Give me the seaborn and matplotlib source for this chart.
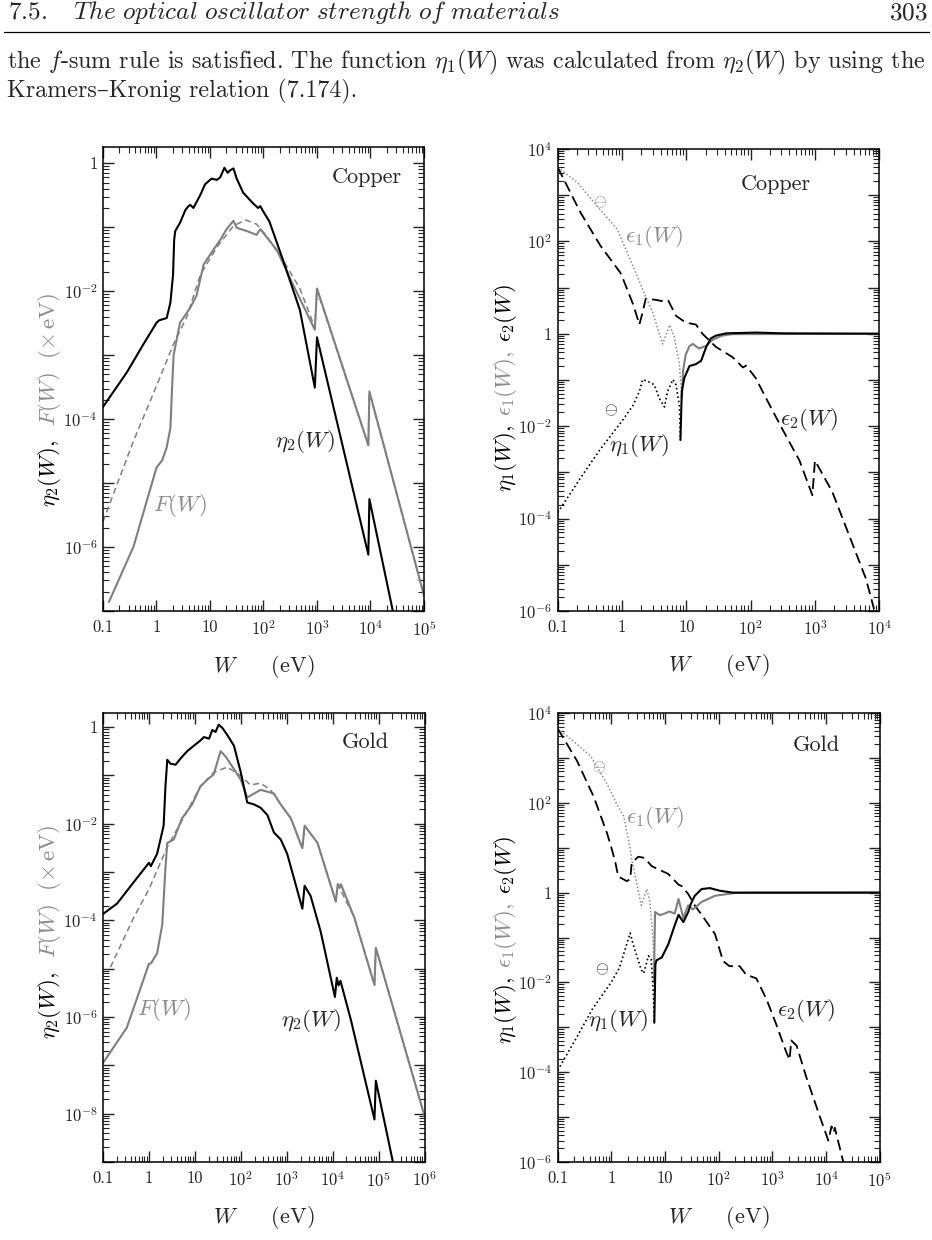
import numpy as np
import pandas as pd
import seaborn as sns
import matplotlib
matplotlib.use("Agg")
import matplotlib.pyplot as plt
from matplotlib.ticker import FixedLocator, FixedFormatter, LogLocator, NullFormatter

# ---- Copper: eta2(W), F(W), fit ----
cu_eta2_w = [0.1, 0.28, 0.575, 1.0, 1.12, 1.55, 1.82, 2.04, 2.14, 2.24, 2.75, 3.47, 3.9, 4.27, 4.9, 6.6, 8.1,
             10.7, 13.5, 15.5, 18.6, 21.4, 24, 27.5, 31.6, 41.7, 64.6, 79.4, 87, 100, 129, 234, 479, 912,
             1000, 9120, 9550, 31600]
cu_eta2_v = [1.55e-4, 5.4e-4, 1.5e-3, 3.2e-3, 3.5e-3, 3.8e-3, 6.6e-3, 1.8e-2, 6.3e-2, 8.7e-2, 0.117, 0.186,
             0.21, 0.224, 0.20, 0.32, 0.47, 0.575, 0.55, 0.60, 0.85, 0.71, 0.78, 0.83, 0.575, 0.347, 0.234,
             0.20, 0.214, 0.174, 0.123, 0.030, 5.1e-3, 3.1e-4, 1.9e-3, 7.6e-7, 5.6e-6, 4.7e-8]
cu_F_w = [0.129, 0.37, 1.0, 1.29, 1.55, 1.82, 1.95, 2.09, 2.75, 4.27, 5.6, 7.6, 11.5, 15.5, 20.4, 27.5,
          31.6, 49, 74, 87, 100, 178, 363, 912, 1000, 9120, 9550, 100000]
cu_F_v = [1.38e-7, 1.0e-6, 1.74e-5, 2.3e-5, 3.6e-5, 7.2e-5, 2.9e-4, 1.0e-3, 3.2e-3, 5.5e-3, 8.5e-3, 0.026,
          0.044, 0.063, 0.093, 0.126, 0.098, 0.087, 0.076, 0.093, 0.081, 0.044, 0.0123, 2.5e-3, 0.011,
          3.9e-5, 2.7e-4, 1.75e-7]
cu_fit_w = [0.1, 0.37, 1.0, 2.09, 3.7, 6.6, 13.5, 27.5, 46, 74, 115, 234, 479, 912, 1000, 9120,
            9550, 100000]
cu_fit_v = [2.5e-6, 4.5e-5, 3.3e-4, 1.5e-3, 4.0e-3, 0.018, 0.049, 0.105, 0.13, 0.112, 0.072, 0.030,
            0.011, 2.7e-3, 0.0105, 3.9e-5, 2.6e-4, 1.75e-7]

# ---- Copper: eta1(W), eps1(W), eps2(W) ----
cu_eps2_w = [0.1, 0.225, 0.46, 0.94, 1.0, 1.51, 1.86, 2.09, 2.34, 3.39, 4.79, 5.25, 6.9, 9.8, 14.1, 17.8,
             28.8, 52.5, 76, 85, 120, 174, 316, 575, 912, 1000, 1860, 6170, 8300]
cu_eps2_v = [4000, 425, 81, 21, 17.5, 4.1, 1.58, 2.9, 5.75, 5.4, 4.9, 5.2, 2.45, 1.74, 1.58, 1.0, 0.52,
             0.31, 0.186, 0.204, 0.11, 0.040, 8.3e-3, 1.8e-3, 3.2e-4, 1.8e-3, 3.8e-4, 5.1e-6, 1.1e-6]
cu_eps1n_w = [0.1, 0.2, 0.46, 0.835, 1.2, 1.71, 2.3, 3.0, 4.27, 4.79, 5.5, 6.5, 7.8, 8.5]
cu_eps1n_v = [4000, 1900, 480, 186, 58, 18, 6.6, 2.9, 0.60, 0.91, 1.55, 0.85, 0.22, 0.04]
cu_eps1p_w = [8.5, 8.9, 9.8, 11.2, 12.6, 15.8, 20.4, 25.7, 36, 52, 10000]
cu_eps1p_v = [0.04, 0.16, 0.355, 0.54, 0.60, 0.48, 0.55, 0.74, 0.91, 0.98, 1.0]
cu_eta1n_w = [0.1, 0.245, 0.447, 1.0, 1.48, 1.86, 2.09, 2.51, 3.16, 3.8, 4.57, 5.1, 6.2, 6.9, 7.8, 8.1]
cu_eta1n_v = [1.35e-4, 8.9e-4, 3.0e-3, 0.0129, 0.028, 0.056, 0.102, 0.093, 0.079, 0.040, 0.026, 0.056,
              0.102, 0.079, 0.028, 5.0e-3]
cu_eta1p_w = [8.1, 8.5, 9.3, 11.2, 14.1, 17, 20.4, 24, 28.8, 41.7, 120, 316, 10000]
cu_eta1p_v = [5.0e-3, 0.056, 0.11, 0.20, 0.22, 0.26, 0.52, 0.79, 0.91, 1.02, 1.06, 1.02, 1.0]

# ---- Gold: eta2(W), F(W), fit ----
au_eta2_w = [0.1, 0.204, 0.468, 1.0, 1.1, 1.51, 2.09, 2.29, 2.51, 2.95, 3.8, 4.9, 6.8, 9.5, 13.2, 15.8,
             20.4, 24, 28.2, 33, 40, 51, 71, 100, 138, 195, 269, 380, 525, 741, 1020, 1450, 2190, 2450,
             3310, 5500, 11200, 12300, 13500, 14800, 25100, 81300, 87100, 251000]
au_eta2_v = [1.35e-4, 2.24e-4, 6.2e-4, 1.55e-3, 1.32e-3, 2.4e-3, 9.1e-3, 0.059, 0.21, 0.174, 0.166,
             0.224, 0.316, 0.41, 0.525, 0.62, 0.575, 0.87, 0.79, 1.12, 0.95, 0.68, 0.41, 0.115, 0.0275,
             0.025, 0.0214, 0.0151, 6.6e-3, 4.7e-3, 2.4e-3, 7.2e-4, 1.74e-4, 5.2e-4, 3.2e-4, 5.8e-5,
             2.6e-6, 6.5e-6, 4.5e-6, 5.6e-6, 8.5e-7, 7.6e-9, 4.8e-8, 4e-10]
au_F_w = [0.1, 0.33, 1.0, 1.12, 1.51, 1.95, 2.29, 2.51, 3.47, 5.25, 8.7, 13.2, 18.6, 25.7, 36.3, 46.8,
          71, 100, 138, 195, 269, 380, 525, 741, 1230, 2190, 2450, 4680, 11700, 12900, 14100, 15100,
          29500, 81300, 87100, 1000000]
au_F_v = [1.12e-7, 6.0e-7, 1.26e-5, 1.3e-5, 2.1e-5, 8.1e-5, 1.2e-3, 4.0e-3, 4.7e-3, 0.0129, 0.025, 0.059,
          0.081, 0.105, 0.316, 0.245, 0.135, 0.081, 0.035, 0.042, 0.050, 0.046, 0.042, 0.025, 0.0129,
          3.1e-3, 9.1e-3, 4.0e-3, 2.45e-4, 5.6e-4, 4.7e-4, 5.6e-4, 1.15e-4, 4.6e-6, 2.7e-5, 8.9e-9]
au_fit_w = [0.145, 0.468, 1.0, 2.51, 6.8, 13.2, 25.7, 51, 100, 162, 269, 447, 741, 1230, 2190, 2450,
            4680, 11700, 12900, 29500, 81300, 87100, 1000000]
au_fit_v = [1.07e-5, 1.15e-4, 4.4e-4, 3.3e-3, 0.018, 0.059, 0.115, 0.148, 0.098, 0.063, 0.069, 0.050,
            0.025, 0.0129, 3.1e-3, 9.1e-3, 4.0e-3, 2.45e-4, 5.6e-4, 1.15e-4, 4.6e-6, 2.7e-5, 8.9e-9]

# ---- Gold: eta1(W), eps1(W), eps2(W) ----
au_eps2_w = [0.1, 0.23, 0.47, 0.83, 1.0, 1.18, 1.34, 1.93, 2.24, 2.39, 3.16, 4.2, 5.6, 7.5, 11.5, 17.8,
             20.4, 27, 35.7, 48, 85, 120, 158, 245, 324, 500, 776, 1175, 1820, 2090, 2240, 2820, 4270,
             7590, 11000, 12600, 13800, 14500, 20900, 25100]
au_eps2_v = [4500, 850, 135, 21, 10, 4.8, 2.3, 1.8, 2.0, 4.6, 6.3, 5.9, 3.9, 3.3, 2.6, 1.5, 1.4, 0.93,
             0.52, 0.32, 0.12, 0.030, 0.023, 0.023, 0.0148, 0.0123, 4.2e-3, 1.17e-3, 2.75e-4, 1.9e-4,
             5.1e-4, 3.9e-4, 7.8e-5, 1.05e-5, 3.0e-6, 6.2e-6, 4.5e-6, 5.8e-6, 1.0e-6, 5e-7]
au_eps1n_w = [0.1, 0.2, 0.41, 0.83, 1.34, 1.7, 2.24, 2.4, 2.95, 3.6, 4.6, 5.2, 6.0, 6.2]
au_eps1n_v = [4500, 2300, 1100, 263, 80, 50, 9.5, 5.4, 1.66, 0.52, 1.2, 0.62, 0.083, 0.01]
au_eps1p_w = [6.2, 6.5, 7.9, 9.8, 12, 15.1, 17.8, 21.9, 26.9, 33, 48, 85, 200, 100000]
au_eps1p_v = [0.01, 0.37, 0.316, 0.34, 0.38, 0.34, 0.72, 0.27, 0.52, 0.42, 0.62, 0.85, 0.98, 1.0]
au_eta1n_w = [0.1, 0.219, 0.447, 1.0, 1.41, 2.24, 2.51, 3.6, 4.0, 4.9, 5.5, 6.0, 6.3]
au_eta1n_v = [1.1e-4, 5.6e-4, 2.6e-3, 0.0102, 0.021, 0.126, 0.074, 0.019, 0.016, 0.039, 0.033, 7.1e-3,
              1.26e-3]
au_eta1p_w = [6.3, 6.6, 6.9, 8.7, 11.5, 15.2, 17.8, 21.9, 27, 30, 35.7, 48, 68, 105, 182, 100000]
au_eta1p_v = [1.26e-3, 0.025, 0.031, 0.036, 0.071, 0.19, 0.32, 0.22, 0.37, 0.55, 0.85, 1.2, 1.26, 1.1,
              1.0, 1.0]

GRAY = '#7f7f7f'
LGRAY = '#8c8c8c'

sns.set_style("ticks")
plt.rcParams['font.family'] = ['cmr10', 'DejaVu Serif']
plt.rcParams['mathtext.fontset'] = 'cm'
plt.rcParams['axes.unicode_minus'] = False
plt.rcParams['axes.formatter.use_mathtext'] = True
plt.rcParams['axes.edgecolor'] = 'black'
plt.rcParams['axes.linewidth'] = 1.1


def curve(ax, w, v, color, lw, ls):
    df = pd.DataFrame({'W': w, 'v': v})
    sns.lineplot(data=df, x='W', y='v', ax=ax, color=color, lw=lw, linestyle=ls,
                 estimator=None, sort=False)


def dec_label(e):
    if e == 0:
        return '1'
    if e == -1:
        return '0.1'
    if e == 1:
        return '10'
    return '$10^{%d}$' % e


def style(ax, xe, ylim, ye):
    ax.set_xscale('log')
    ax.set_yscale('log')
    ax.set_xlim(10.0 ** xe[0], 10.0 ** xe[1])
    ax.set_ylim(ylim)
    xs = list(range(xe[0], xe[1] + 1))
    ax.xaxis.set_major_locator(FixedLocator([10.0 ** e for e in xs]))
    ax.xaxis.set_major_formatter(FixedFormatter([dec_label(e) for e in xs]))
    ys = list(range(ye[0], ye[1] + 1))
    ax.yaxis.set_major_locator(FixedLocator([10.0 ** e for e in ys]))
    ax.yaxis.set_major_formatter(FixedFormatter([dec_label(e) if e % 2 == 0 else '' for e in ys]))
    for a in (ax.xaxis, ax.yaxis):
        a.set_minor_locator(LogLocator(base=10, subs=[2, 3, 4, 5, 6, 7, 8, 9], numticks=200))
        a.set_minor_formatter(NullFormatter())
    ax.tick_params(which='both', direction='in', top=True, right=True, labelsize=12,
                   colors='#222222')
    ax.tick_params(which='major', length=8, width=1.0)
    ax.tick_params(which='minor', length=4, width=0.8)
    ax.tick_params(axis='x', which='major', pad=6)
    ax.tick_params(axis='y', which='major', pad=4)
    ax.set_xlabel(r'$W$     (eV)', fontsize=16, labelpad=10)
    ax.set_ylabel('')


fig = plt.figure(figsize=(9.32, 12.4), dpi=100)
ax1 = fig.add_axes([0.1105, 0.5073, 0.3444, 0.3742])
ax2 = fig.add_axes([0.5984, 0.5073, 0.3450, 0.3726])
ax3 = fig.add_axes([0.1105, 0.0629, 0.3450, 0.3621])
ax4 = fig.add_axes([0.5984, 0.0629, 0.3456, 0.3621])

dash_fit = (0, (4, 2.5))
dash_eps2 = (0, (6, 3))
dot_blk = (0, (1, 1.6))
dot_gry = (0, (1, 1.4))

# panel 1 (copper)
curve(ax1, cu_fit_w, cu_fit_v, GRAY, 1.1, dash_fit)
curve(ax1, cu_F_w, cu_F_v, GRAY, 1.5, '-')
curve(ax1, cu_eta2_w, cu_eta2_v, 'black', 1.5, '-')
style(ax1, (-1, 5), (1e-7, 1.8), (-7, 0))

# panel 2 (copper)
curve(ax2, cu_eps2_w, cu_eps2_v, 'black', 1.3, dash_eps2)
curve(ax2, cu_eps1n_w, cu_eps1n_v, LGRAY, 1.1, dot_gry)
curve(ax2, cu_eps1p_w, cu_eps1p_v, GRAY, 1.5, '-')
curve(ax2, cu_eta1n_w, cu_eta1n_v, 'black', 1.2, dot_blk)
curve(ax2, cu_eta1p_w, cu_eta1p_v, 'black', 1.5, '-')
style(ax2, (-1, 4), (1e-6, 1e4), (-6, 4))

# panel 3 (gold)
curve(ax3, au_fit_w, au_fit_v, GRAY, 1.1, dash_fit)
curve(ax3, au_F_w, au_F_v, GRAY, 1.5, '-')
curve(ax3, au_eta2_w, au_eta2_v, 'black', 1.5, '-')
style(ax3, (-1, 6), (1e-9, 1.95), (-9, 0))

# panel 4 (gold)
curve(ax4, au_eps2_w, au_eps2_v, 'black', 1.3, dash_eps2)
curve(ax4, au_eps1n_w, au_eps1n_v, LGRAY, 1.1, dot_gry)
curve(ax4, au_eps1p_w, au_eps1p_v, GRAY, 1.5, '-')
curve(ax4, au_eta1n_w, au_eta1n_v, 'black', 1.2, dot_blk)
curve(ax4, au_eta1p_w, au_eta1p_v, 'black', 1.5, '-')
style(ax4, (-1, 5), (1e-6, 1e4), (-6, 4))

# in-plot labels
lab = dict(fontsize=16.5, ha='center', va='center')
name = dict(fontsize=16, ha='center', va='center')
ax1.text(8500, 0.6, 'Copper', **name)
ax1.text(590, 4.5e-5, r'$\eta_2(W)$', **lab)
ax1.text(2.75, 4.4e-6, r'$F(W)$', color=LGRAY, **lab)

ax2.text(245, 1700, 'Copper', **name)
ax2.text(3.1, 125, r'$\epsilon_1(W)$', color=LGRAY, **lab)
ax2.text(1.85, 3.9e-3, r'$\eta_1(W)$', **lab)
ax2.text(810, 0.014, r'$\epsilon_2(W)$', **lab)
ax2.text(0.46, 700, r'$\ominus$', color=LGRAY, fontsize=12, ha='center', va='center')
ax2.text(0.68, 0.022, r'$\ominus$', fontsize=12, ha='center', va='center')

ax3.text(52000, 0.48, 'Gold', **name)
ax3.text(3300, 8.5e-7, r'$\eta_2(W)$', **lab)
ax3.text(2.1, 1.4e-6, r'$F(W)$', color=LGRAY, **lab)

ax4.text(6600, 1900, 'Gold', **name)
ax4.text(6.6, 46, r'$\epsilon_1(W)$', color=LGRAY, **lab)
ax4.text(1.32, 1.4e-3, r'$\eta_1(W)$', **lab)
ax4.text(4300, 2.4e-3, r'$\epsilon_2(W)$', **lab)
ax4.text(0.58, 630, r'$\ominus$', color=LGRAY, fontsize=12, ha='center', va='center')
ax4.text(0.66, 0.02, r'$\ominus$', fontsize=12, ha='center', va='center')

# multi-coloured y labels: pieces stacked upward with a small gap
renderer = fig.canvas.get_renderer()


def ylabel_parts(ax, x, y0, parts, gap_px=9):
    y = y0
    ax_h = ax.get_window_extent(renderer).height
    for txt, col in parts:
        t = ax.text(x, y, txt, color=col, transform=ax.transAxes, rotation=90,
                    ha='center', va='bottom', fontsize=16.5)
        h = t.get_window_extent(renderer).height
        y += (h + gap_px) / ax_h


ylabel_parts(ax1, -0.166, 0.225, [(r'$\eta_2(W),$', 'black'),
                                  (r'$F(W)\ \ (\times\,\mathrm{eV})$', LGRAY)], gap_px=14)
ylabel_parts(ax3, -0.166, 0.274, [(r'$\eta_2(W),$', 'black'),
                                  (r'$F(W)\ \ (\times\,\mathrm{eV})$', LGRAY)], gap_px=14)
ylabel_parts(ax2, -0.163, 0.258, [(r'$\eta_1(W),$', 'black'), (r'$\epsilon_1(W),$', LGRAY),
                                  (r'$\epsilon_2(W)$', 'black')])
ylabel_parts(ax4, -0.163, 0.262, [(r'$\eta_1(W),$', 'black'), (r'$\epsilon_1(W),$', LGRAY),
                                  (r'$\epsilon_2(W)$', 'black')])

# page header and body text, body size fitted to the text block width
W_PX, H_PX = 932, 1240
line1 = r'the $f$-sum rule is satisfied. The function $\eta_1(W)$ was calculated from $\eta_2(W)$ by using the'
probe = fig.text(0, 0, line1, fontsize=10)
w10 = probe.get_window_extent(renderer).width
probe.remove()
body_fs = 10 * 920 / w10

fig.text(8 / W_PX, 1 - 19.5 / H_PX,
         r'$\mathit{7.5.}\ \ \ \mathit{The\ optical\ oscillator\ strength\ of\ materials}$',
         fontsize=body_fs * 1.05, ha='left', va='baseline')
fig.text(928 / W_PX, 1 - 19.5 / H_PX, r'$\mathit{303}$', fontsize=body_fs * 1.05, ha='right', va='baseline')
fig.add_artist(plt.Line2D([4 / W_PX, 929 / W_PX], [1 - 31.7 / H_PX] * 2, color='black', lw=0.9))
fig.text(7 / W_PX, 1 - 68 / H_PX, line1, fontsize=body_fs, ha='left', va='baseline')
fig.text(7 / W_PX, 1 - 97 / H_PX, 'Kramers\u2013Kronig relation (7.174).', fontsize=body_fs,
         ha='left', va='baseline')

fig.savefig('out.png', dpi=100)
